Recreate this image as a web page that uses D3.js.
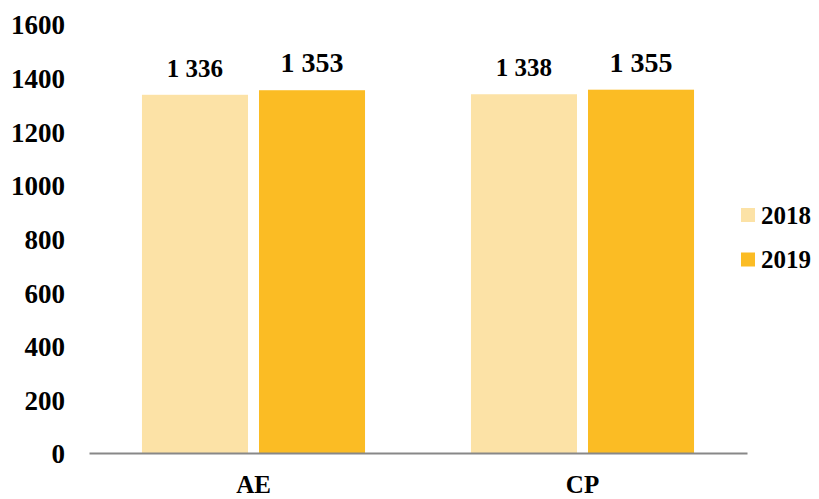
<!DOCTYPE html>
<html lang="en">
<head>
<meta charset="UTF-8">
<title>AE / CP 2018-2019</title>
<script src="https://d3js.org/d3.v7.min.js"></script>
<style>
  body { margin: 0; background: #fff; }
  text { font-family: 'Liberation Serif', 'Times New Roman', serif; font-weight: bold; fill: #000; }
</style>
</head>
<body>
<div id="chart"></div>
<script>
  // data
  const categories = ["AE", "CP"];
  const years = ["2018", "2019"];
  const values2018 = [1336, 1338];
  const values2019 = [1353, 1355];
  const yTicks = [0, 200, 400, 600, 800, 1000, 1200, 1400, 1600];

  const colors = { "2018": "#FCE2A6", "2019": "#FBBC24" };
  const labelSize = { "2018": 25, "2019": 28 };

  const width = 819, height = 499;
  const svg = d3.select("#chart").append("svg")
      .attr("width", width)
      .attr("height", height);

  const rows = categories.map((c, i) => ({
    cat: c,
    vals: [{ year: "2018", v: values2018[i] }, { year: "2019", v: values2019[i] }]
  }));

  const x0 = d3.scaleBand().domain(categories).range([89, 747])
      .paddingInner(0.322).paddingOuter(0.161);
  const x1 = d3.scaleBand().domain(years).range([0, x0.bandwidth()])
      .paddingInner(0.094).paddingOuter(0);
  const y = d3.scaleLinear().domain([0, 1600]).range([453, 24]);

  // y tick labels (no axis line)
  svg.append("g").selectAll("text")
    .data(yTicks)
    .enter().append("text")
      .attr("x", 65)
      .attr("y", d => y(d) + 1)
      .attr("dy", "0.35em")
      .attr("text-anchor", "end")
      .style("font-size", "27px")
      .text(d => d);

  // bars
  const grp = svg.append("g").selectAll("g")
    .data(rows)
    .enter().append("g")
      .attr("transform", d => `translate(${x0(d.cat)},0)`);

  grp.selectAll("rect")
    .data(d => d.vals)
    .enter().append("rect")
      .attr("x", d => x1(d.year))
      .attr("y", d => y(d.v))
      .attr("width", x1.bandwidth())
      .attr("height", d => y(0) - y(d.v))
      .attr("fill", d => colors[d.year]);

  grp.selectAll("text")
    .data(d => d.vals)
    .enter().append("text")
      .attr("x", d => x1(d.year) + x1.bandwidth() / 2)
      .attr("y", d => y(d.v) - 18)
      .attr("text-anchor", "middle")
      .style("font-size", d => labelSize[d.year] + "px")
      .text(d => d3.format(",")(d.v).replace(",", " "));

  // x axis
  const xAxis = svg.append("g")
      .attr("transform", `translate(0,${y(0)})`)
      .call(d3.axisBottom(x0).tickSize(0).tickPadding(22));
  xAxis.select(".domain").attr("stroke", "#888").attr("stroke-width", 2);
  xAxis.selectAll("text")
      .style("font-size", "25px")
      .style("font-family", "'Liberation Serif', 'Times New Roman', serif")
      .attr("dy", "0.71em");

  // legend
  const legend = svg.append("g").selectAll("g")
    .data(years)
    .enter().append("g")
      .attr("transform", (d, i) => `translate(741,${215 + i * 44.5})`);
  legend.append("rect")
      .attr("x", 0).attr("y", -7)
      .attr("width", 14).attr("height", 14)
      .attr("fill", d => colors[d]);
  legend.append("text")
      .attr("x", 20)
      .attr("dy", "0.35em")
      .style("font-size", "25px")
      .text(d => d);
</script>
</body>
</html>
